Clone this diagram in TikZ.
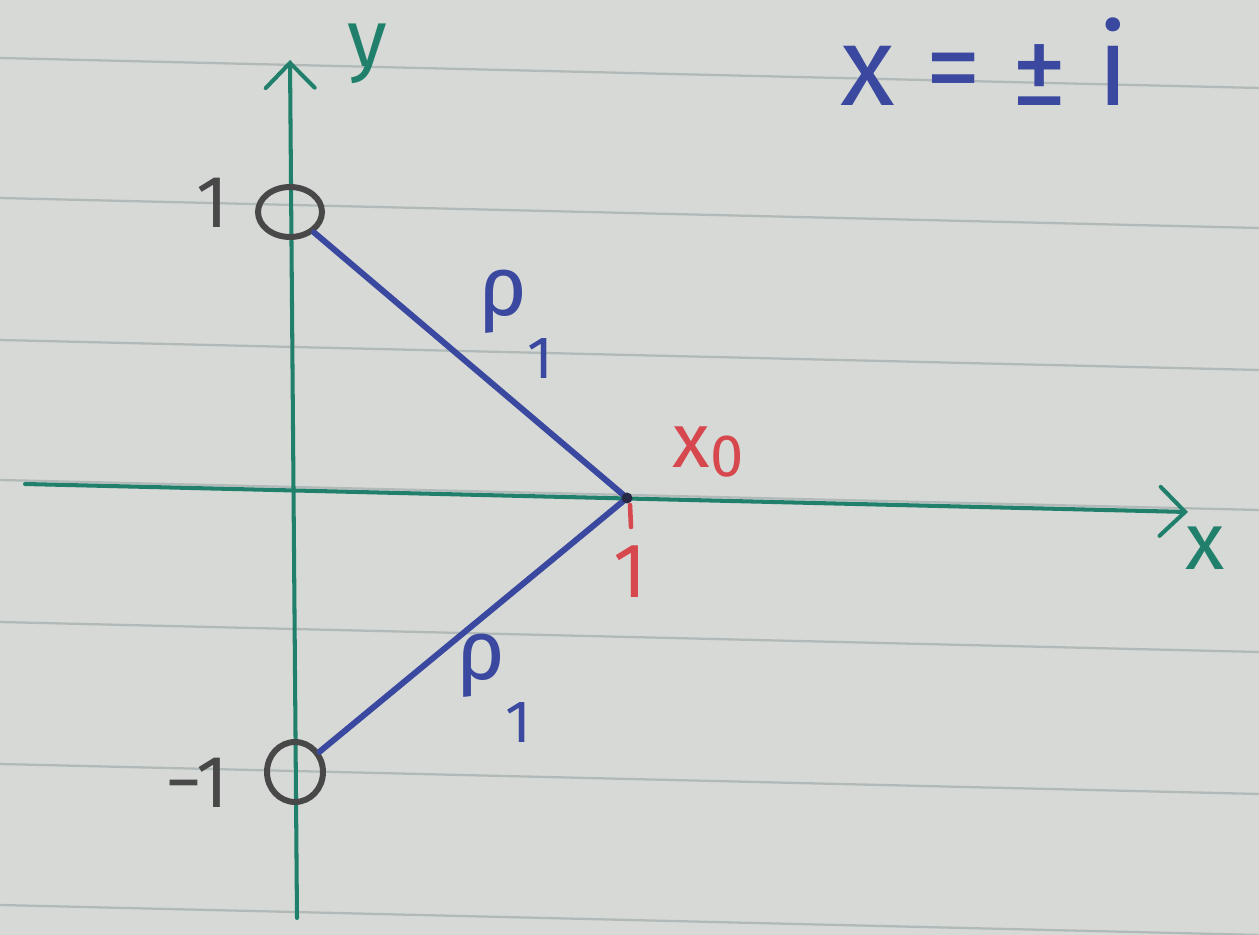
\documentclass[tikz,border=0pt]{standalone}
\usepackage{fontspec}
\setmainfont{Fira Sans}
\usetikzlibrary{arrows.meta,shapes.geometric}
\definecolor{paper}{RGB}{214,217,213}
\definecolor{ruleline}{RGB}{178,186,185}
\definecolor{axisgreen}{RGB}{32,128,108}
\definecolor{penblue}{RGB}{58,72,160}
\definecolor{penred}{RGB}{214,72,78}
\definecolor{pengray}{RGB}{72,72,72}
\definecolor{pendark}{RGB}{40,40,70}
\newcommand{\fsz}[1]{\fontsize{#1}{#1}\selectfont}
\begin{document}
\begin{tikzpicture}[x=0.02cm,y=-0.02cm,
  paperline/.style={draw=ruleline,line width=1.3pt},
  axisline/.style={draw=axisgreen,line width=2.3pt,line cap=round,
    -{Straight Barb[length=0.5cm,width=0.98cm,line cap=round]}},
  pole/.style={ellipse,draw=pengray,line width=3.4pt,inner sep=0pt},
  segment/.style={draw=penblue,line width=3.4pt,line cap=round},
  greenlab/.style={text=axisgreen,font=\fsz{46},inner sep=0pt},
  bluelab/.style={text=penblue,font=\fsz{48},inner sep=0pt},
  redlab/.style={text=penred,font=\fsz{44},inner sep=0pt},
  graylab/.style={text=pengray,font=\fsz{42},inner sep=0pt}]
\useasboundingbox (0,0) rectangle (1259,935);
\fill[paper] (0,0) rectangle (1259,935);
% ruled paper
\foreach \yy in {58,198,340,480,622,764,905}
  \draw[paperline] (0,\yy) -- (1259,\yy+30);
% axes
\coordinate (xs) at (25,484);
\coordinate (xe) at (1188,512);
\coordinate (ys) at (297,918);
\coordinate (ye) at (290,60);
\draw[axisline] (xs) -- (xe);
\draw[axisline] (ys) -- (ye);
\node[greenlab] (ylab) at (367,54) {y};
\node[greenlab] (xlab) at (1205,548) {x};
% poles
\node[pole,minimum width=1.28cm,minimum height=1.0cm] (pa) at (290,212) {};
\node[pole,minimum width=1.12cm,minimum height=1.2cm] (pb) at (295,772) {};
\node[graylab] (one) at (212,203) {1};
\node[graylab] (mone) at (197,783) {−1};
% point x0
\coordinate (x0) at (627,498);
\draw[segment] (pa) -- (x0);
\draw[segment] (pb) -- (x0);
\fill[pendark] (x0) circle (0.11cm);
\coordinate (tka) at (630,505);
\coordinate (tkb) at (631,527);
\draw[penred,line width=2.6pt,line cap=round] (tka) -- (tkb);
\node[redlab] (x0lab) at (708,452) {x\raisebox{-0.12em}{\fsz{34}0}};
\node[redlab] (onex) at (630,572) {1};
% distances
\node[bluelab] (rhoa) at (516,324) {ρ\raisebox{-0.75em}{\fsz{34}1}};
\node[bluelab] (rhob) at (494,688) {ρ\raisebox{-0.75em}{\fsz{34}1}};
% equation
\node[text=penblue,font=\fsz{64},inner sep=0pt] (eq) at (985,62) {x = ± i};
\end{tikzpicture}
\end{document}
